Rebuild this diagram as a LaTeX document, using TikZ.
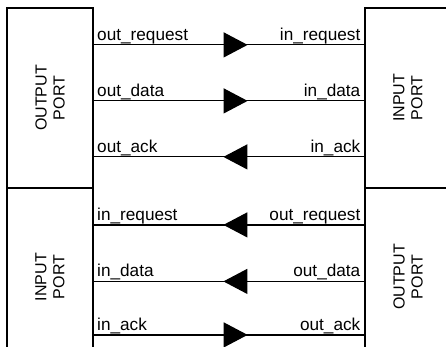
\documentclass[tikz,border=0pt]{standalone}
\usepackage{fontspec}
\setmainfont{Liberation Sans}
\usepackage{tikz}
\usetikzlibrary{arrows.meta,decorations.markings,positioning}

\begin{document}
\begin{tikzpicture}[x=1pt,y=1pt,line width=1.2pt,
  font=\fontsize{17.2}{18}\selectfont,
  port/.style={draw,minimum width=86pt,inner sep=0pt,align=center},
  portname/.style={rotate=90,align=center,inner sep=0pt,font=\fontsize{16}{18}\selectfont},
  lname/.style={anchor=base west,inner sep=0pt,xshift=3pt,yshift=4.5pt},
  rname/.style={anchor=base east,inner sep=0pt,xshift=-3.5pt,yshift=4.5pt}]
          \clip (0,0) rectangle (446,-347);
          \node[port,minimum height=180pt] (outA) at (50,-98)  {};
          \node[port,minimum height=180pt] (inB)  at (408,-98) {};
          \node[port,minimum height=178pt] (inA)  at (50,-277) {};
          \node[port,minimum height=178pt] (outB) at (408,-277) {};
          \node[portname] at (outA) {OUTPUT\\PORT};
          \node[portname] at (inB)  {INPUT\\PORT};
          \node[portname] at (inA)  {INPUT\\PORT};
          \node[portname] at (outB) {OUTPUT\\PORT};
          % signal ends on the box sides
          \coordinate (a1) at ([yshift=-37.5pt]outA.north east);
          \coordinate (a2) at ([yshift=-93.5pt]outA.north east);
          \coordinate (a3) at ([yshift=-149.5pt]outA.north east);
          \coordinate (b1) at ([yshift=-37.5pt]inB.north west);
          \coordinate (b2) at ([yshift=-93.5pt]inB.north west);
          \coordinate (b3) at ([yshift=-149.5pt]inB.north west);
          \coordinate (c1) at ([yshift=-37.5pt]inA.north east);
          \coordinate (c2) at ([yshift=-94pt]inA.north east);
          \coordinate (c3) at ([yshift=-147.5pt]inA.north east);
          \coordinate (d1) at ([yshift=-37.5pt]outB.north west);
          \coordinate (d2) at ([yshift=-94pt]outB.north west);
          \coordinate (d3) at ([yshift=-147.5pt]outB.north west);
          \tikzset{sigright/.style={postaction={decorate},decoration={markings,
            mark=at position 154pt with {\arrow{Triangle[length=24pt,width=25pt]}}}}}
          \tikzset{sigleft/.style={postaction={decorate},decoration={markings,
            mark=at position 141pt with {\arrow{Triangle[length=24pt,width=25pt]}}}}}
          \path (a1) edge [sigright] node[lname,pos=0] {out\_request} node[rname,pos=1] {in\_request} (b1)
          (a2) edge [sigright] node[lname,pos=0] {out\_data} node[rname,pos=1] {in\_data} (b2)
          (b3) edge [sigleft]  node[rname,pos=0] {in\_ack} node[lname,pos=1] {out\_ack} (a3)
          (d1) edge [sigleft]  node[rname,pos=0] {out\_request} node[lname,pos=1] {in\_request} (c1)
          (d2) edge [sigleft]  node[rname,pos=0] {out\_data} node[lname,pos=1] {in\_data} (c2)
          (c3) edge [sigright] node[lname,pos=0] {in\_ack} node[rname,pos=1] {out\_ack} (d3);
        \end{tikzpicture}
\end{document}
